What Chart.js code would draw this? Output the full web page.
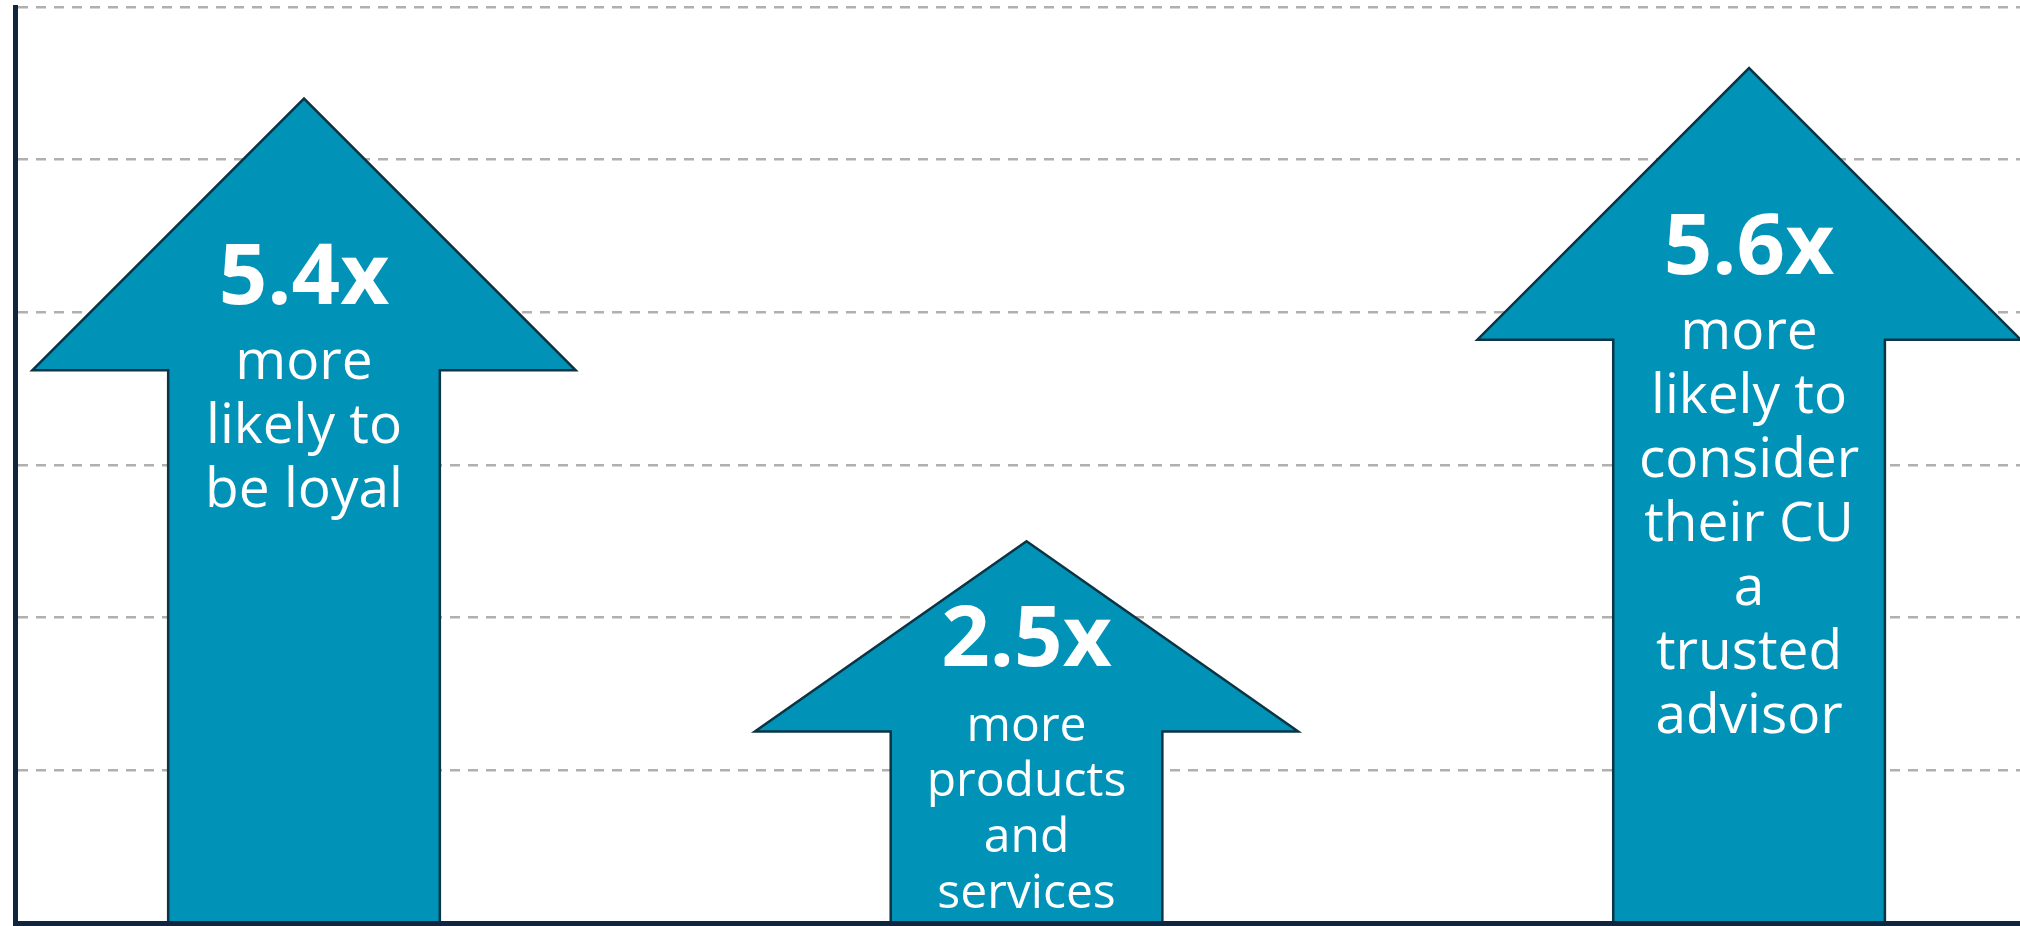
<!DOCTYPE html>
<html>
<head>
<meta charset="utf-8">
<script src="https://cdn.jsdelivr.net/npm/chart.js@4.4.1/dist/chart.umd.min.js"></script>
<style>
  html, body { margin: 0; padding: 0; background: #ffffff; }
  #wrap { width: 2020px; height: 926px; }
</style>
</head>
<body>
<div id="wrap"><canvas id="arrowChart"></canvas></div>
<script>
// how many times more likely, one arrow each
const multipliers = [5.4, 2.5, 5.6];
const captions = [
  ["more", "likely to", "be loyal"],
  ["more", "products", "and", "services"],
  ["more", "likely to", "consider", "their CU", "a", "trusted", "advisor"]
];
const yTicks = [0, 1, 2, 3, 4, 5, 6];

const ARROW_FILL = "#0092b7";
const ARROW_EDGE = "#0b3445";
const AXIS_NAVY = "#10253f";
const GRID_GREY = "#b2afaf";

// draws each bar as a block arrow pointing up, with its caption inside
const upArrows = {
  id: "upArrows",
  afterDatasetsDraw(chart) {
    const ctx = chart.ctx;
    const meta = chart.getDatasetMeta(0);
    meta.data.forEach((bar, i) => {
      const { x, y, base, width } = bar.getProps(["x", "y", "base", "width"], true);
      const headHalf = width / 2;
      const shaftHalf = width / 4;
      const headH = 0.5 * Math.min(width, base - y);
      const shaftTop = y + headH;

      ctx.save();
      ctx.beginPath();
      ctx.moveTo(x - shaftHalf, base);
      ctx.lineTo(x - shaftHalf, shaftTop);
      ctx.lineTo(x - headHalf, shaftTop);
      ctx.lineTo(x, y);
      ctx.lineTo(x + headHalf, shaftTop);
      ctx.lineTo(x + shaftHalf, shaftTop);
      ctx.lineTo(x + shaftHalf, base);
      ctx.fillStyle = ARROW_FILL;
      ctx.fill();
      ctx.lineWidth = 2.5;
      ctx.lineJoin = "miter";
      ctx.strokeStyle = ARROW_EDGE;
      ctx.stroke();

      // big multiplier, then the caption lines under it
      const boldY = shaftTop - 66;
      ctx.fillStyle = "#ffffff";
      ctx.textAlign = "center";
      ctx.textBaseline = "alphabetic";
      ctx.font = "700 85px 'Open Sans'";
      ctx.fillText(multipliers[i] + "x", x, boldY);

      const lines = captions[i];
      const first = boldY + 75;
      const step = lines.length > 1 ? Math.min(64, (base - 14 - first) / (lines.length - 1)) : 64;
      const size = Math.round(step * 0.86);
      ctx.font = "400 " + size + "px 'Open Sans'";
      lines.forEach((t, k) => ctx.fillText(t, x, first + k * step));
      ctx.restore();
    });
  }
};

const ctx = document.getElementById("arrowChart").getContext("2d");
const arrowChart = new Chart(ctx, {
  type: "bar",
  data: {
    datasets: [
      {
        data: multipliers.map((v, i) => ({ x: i, y: v })),
        backgroundColor: "rgba(0,0,0,0)",
        borderWidth: 0,
        categoryPercentage: 1,
        barPercentage: 0.752
      }
    ]
  },
  options: {
    responsive: true,
    maintainAspectRatio: false,
    animation: false,
    layout: { padding: { top: 7, right: 0, bottom: 3, left: 15 } },
    plugins: {
      legend: { display: false },
      tooltip: { enabled: false }
    },
    scales: {
      x: {
        type: "linear",
        offset: false,
        min: -0.4,
        max: 2.375,
        afterBuildTicks: (scale) => {
          scale.ticks = multipliers.map((v, i) => ({ value: i }));
        },
        ticks: { display: false },
        grid: { display: false, drawTicks: false, offset: false },
        border: { color: AXIS_NAVY, width: 5, z: 1 }
      },
      y: {
        min: yTicks[0],
        max: yTicks[yTicks.length - 1],
        afterBuildTicks: (scale) => {
          scale.ticks = yTicks.map((v) => ({ value: v }));
        },
        ticks: { display: false },
        grid: { color: GRID_GREY, lineWidth: 2.5, drawTicks: false },
        border: { color: AXIS_NAVY, width: 5, dash: [10, 8] }
      }
    }
  },
  plugins: [upArrows]
});
</script>
</body>
</html>
